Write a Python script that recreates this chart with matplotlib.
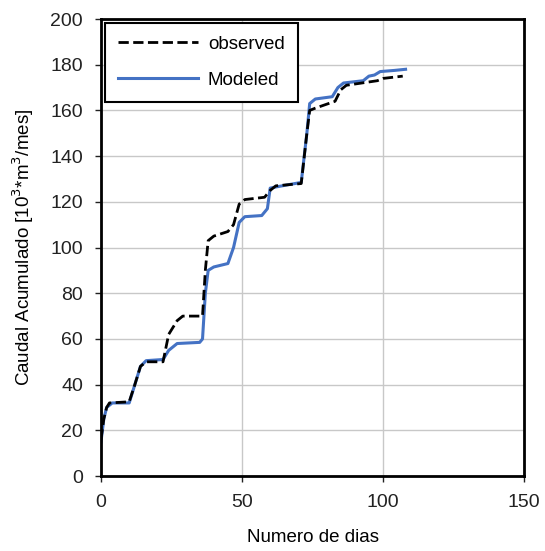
import matplotlib.pyplot as plt

plt.rcParams['font.family'] = ['Liberation Sans', 'DejaVu Sans']

# observed series (dias, caudal acumulado)
obs_x = [0, 1, 2, 3, 10, 12, 14, 16, 22, 24, 27, 29, 36, 37, 38, 40, 45, 47, 49, 51, 58, 60,
         62, 71, 73, 74, 76, 83, 85, 87, 98, 100, 107]
obs_y = [16, 25, 30, 32, 32.5, 40, 48, 50, 50, 62, 68, 70, 70, 90, 103, 105, 107, 110, 119, 121,
         122, 125, 127, 128, 150, 160, 161, 164, 169, 171, 173, 174, 175]

# modeled series
mod_x = [0, 1, 2, 4, 10, 12, 14, 16, 22, 24, 27, 35, 36, 37, 38, 40, 45, 47, 49, 51, 57, 59, 60,
         62, 71, 73, 74, 76, 82, 84, 86, 93, 95, 97, 99, 104, 108]
mod_y = [15, 25, 30, 32, 32, 40, 48, 50.5, 51, 55, 58, 58.5, 60, 80, 90, 91.5, 93, 100, 111, 113.5,
         114, 117, 126, 126.5, 128.5, 150, 163, 165, 166, 170, 172, 173, 175, 175.5, 177, 177.5, 178]

fig = plt.figure(figsize=(5.45, 5.51), dpi=100)
ax = fig.add_axes([0.1853, 0.136, 0.7762, 0.8295])

ax.plot(obs_x, obs_y, color='black', linestyle='--', linewidth=2, label='observed', zorder=3)
ax.plot(mod_x, mod_y, color='#4472C4', linewidth=2.2, label='Modeled', zorder=2)

ax.set_xlim(0, 150)
ax.set_ylim(0, 200)
ax.set_xticks([0, 50, 100, 150])
ax.set_yticks(range(0, 201, 20))
ax.grid(color='#c8c8c8', linewidth=1)
ax.set_axisbelow(True)
for s in ax.spines.values():
    s.set_linewidth(2)
    s.set_color('black')
ax.tick_params(labelsize=14, colors='#222222', length=4, width=1)
ax.tick_params(axis='y', pad=9)
ax.tick_params(axis='x', pad=9)

ax.set_xlabel('Numero de dias', fontsize=13.5, labelpad=13)
ax.set_ylabel('Caudal Acumulado [10$^3$*m$^3$/mes]', fontsize=13.5, labelpad=10)

leg = ax.legend(loc='upper left', fontsize=13.5, fancybox=False, framealpha=1,
                edgecolor='black', handlelength=4.3, borderpad=0.7, labelspacing=1.0,
                borderaxespad=0.2, handletextpad=0.5)
leg.get_frame().set_linewidth(1.5)

fig.savefig('out.png', dpi=100)
